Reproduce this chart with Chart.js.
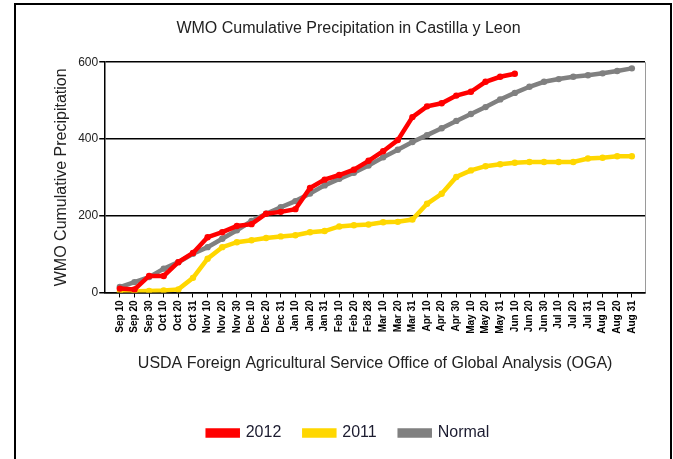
<!DOCTYPE html>
<html>
<head>
<meta charset="utf-8">
<script src="https://cdn.jsdelivr.net/npm/chart.js@4.4.0/dist/chart.umd.min.js"></script>
<style>
  html, body { margin: 0; padding: 0; background: #fff; }
  #wrap { position: relative; width: 673px; height: 459px; overflow: hidden; }
  #frame { position: absolute; left: 14px; top: 3px; width: 654px; height: 470px; border: 2px solid #000; }
  canvas { position: absolute; left: 0; top: 0; }
</style>
</head>
<body>
<div id="wrap">
  <div id="frame"></div>
  <canvas id="chart" width="673" height="459"></canvas>
</div>
<script>
// Dekad labels, Sep 10 .. Aug 31
const labels = [
    'Sep 10', 'Sep 20', 'Sep 30', 'Oct 10', 'Oct 20', 'Oct 31',
    'Nov 10', 'Nov 20', 'Nov 30', 'Dec 10', 'Dec 20', 'Dec 31',
    'Jan 10', 'Jan 20', 'Jan 31', 'Feb 10', 'Feb 20', 'Feb 28',
    'Mar 10', 'Mar 20', 'Mar 31', 'Apr 10', 'Apr 20', 'Apr 30',
    'May 10', 'May 20', 'May 31', 'Jun 10', 'Jun 20', 'Jun 30',
    'Jul 10', 'Jul 20', 'Jul 31', 'Aug 10', 'Aug 20', 'Aug 31'
];

const precip2012 = [10, 8, 43, 43, 79, 103, 144, 157, 173, 178, 205, 210, 217, 272,
    294, 306, 320, 343, 368, 397, 457, 485, 493, 513, 523, 549, 562, 570];

const precip2011 = [2, 3, 4, 5, 8, 38, 88, 118, 131, 136, 142, 146, 149, 157, 160, 172,
    175, 177, 183, 184, 190, 231, 257, 301, 318, 329, 334, 338, 340, 340, 340, 340,
    349, 351, 355, 355];

const precipNormal = [14, 27, 40, 62, 79, 101, 118, 140, 162, 186, 205, 222, 238, 258,
    279, 296, 312, 331, 352, 372, 392, 410, 428, 447, 465, 483, 503, 520, 536, 549,
    556, 562, 566, 571, 577, 584];

const yTicks = [0, 200, 400, 600];

const FONT = 'Liberation Sans, Arial, sans-serif';

function toPoints(arr) {
    return arr.map((v, i) => ({ x: i, y: v }));
}

function lineSet(label, values, color) {
    return {
        label: label,
        data: toPoints(values),
        borderColor: color,
        backgroundColor: color,
        borderWidth: 4.5,
        pointRadius: 3.2,
        pointHoverRadius: 3.2,
        pointBackgroundColor: color,
        pointBorderWidth: 0,
        tension: 0
    };
}

// thin right edge of the plot box
const plotEdge = {
    id: 'plotEdge',
    afterDraw(chart) {
        const a = chart.chartArea;
        const ctx = chart.ctx;
        ctx.save();
        ctx.strokeStyle = '#9a9a9a';
        ctx.lineWidth = 1;
        ctx.beginPath();
        ctx.moveTo(a.right + 0.5, a.top);
        ctx.lineTo(a.right + 0.5, a.bottom);
        ctx.stroke();
        ctx.restore();
    }
};

new Chart(document.getElementById('chart'), {
    type: 'line',
    data: {
        datasets: [
            lineSet('2012', precip2012, '#ff0000'),
            lineSet('2011', precip2011, '#ffd700'),
            lineSet('Normal', precipNormal, '#808080')
        ]
    },
    options: {
        responsive: false,
        animation: false,
        layout: { padding: { left: 52, right: 28, top: 0, bottom: 8 } },
        plugins: {
            title: {
                display: true,
                text: 'WMO Cumulative Precipitation in Castilla y Leon',
                color: '#222',
                font: { family: FONT, size: 16, weight: 'normal' },
                padding: { top: 19, bottom: 24 }
            },
            legend: {
                position: 'bottom',
                labels: {
                    color: '#1c1c30',
                    font: { family: FONT, size: 16 },
                    boxWidth: 30,
                    boxHeight: 5,
                    padding: 23
                }
            },
            tooltip: { enabled: false }
        },
        scales: {
            x: {
                type: 'linear',
                min: -1,
                max: 35.9,
                afterBuildTicks: (axis) => {
                    axis.ticks = labels.map((l, i) => ({ value: i }));
                },
                ticks: {
                    autoSkip: false,
                    maxRotation: 90,
                    minRotation: 90,
                    padding: 3,
                    color: '#000',
                    font: { family: FONT, size: 10, weight: 'bold' },
                    callback: (v) => labels[v]
                },
                grid: { drawOnChartArea: false, tickLength: 5, color: '#000', lineWidth: 1 },
                border: { color: '#000', width: 1.5 },
                title: {
                    display: true,
                    text: 'USDA Foreign Agricultural Service Office of Global Analysis (OGA)',
                    color: '#222',
                    font: { family: FONT, size: 16 },
                    padding: { top: 17, bottom: 29 }
                }
            },
            y: {
                min: 0,
                max: 600,
                afterBuildTicks: (axis) => {
                    axis.ticks = yTicks.map(v => ({ value: v }));
                },
                ticks: {
                    color: '#222',
                    font: { family: FONT, size: 12 },
                    padding: 1
                },
                grid: { color: '#000', lineWidth: 1.5, tickLength: 6 },
                border: { color: '#000', width: 1.5 },
                title: {
                    display: true,
                    text: 'WMO Cumulative Precipitation',
                    color: '#222',
                    font: { family: FONT, size: 16 },
                    padding: { top: 0, bottom: 6 }
                }
            }
        }
    },
    plugins: [plotEdge]
});
</script>
</body>
</html>
